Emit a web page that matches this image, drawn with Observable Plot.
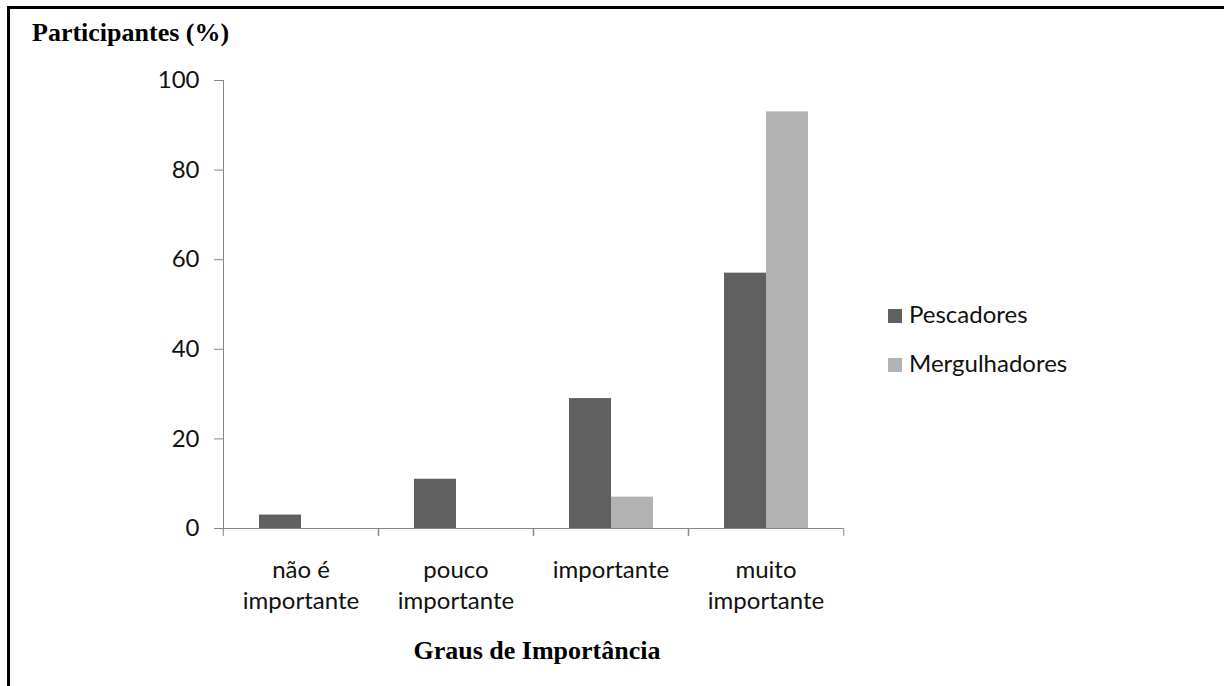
<!DOCTYPE html>
<html><head><meta charset="utf-8">
<script src="https://cdn.jsdelivr.net/npm/d3@7"></script>
<script src="https://cdn.jsdelivr.net/npm/@observablehq/plot@0.6"></script>
<style>
body{margin:0;background:#fff;}
#wrap{position:relative;width:1224px;height:686px;overflow:hidden;background:#fff;}
#border{position:absolute;left:7px;top:6px;width:1400px;height:900px;border-top:3px solid #000;border-left:3px solid #000;box-sizing:border-box;}
.serif{position:absolute;font-family:"Liberation Serif","Times New Roman",serif;font-weight:bold;font-size:26px;line-height:26px;color:#000;white-space:nowrap;}
#chart{position:absolute;left:0;top:0;}
.leg{position:absolute;font-family:Lato,"Open Sans",sans-serif;font-size:24px;line-height:24px;color:#111;white-space:nowrap;}
.leg span.sw{display:inline-block;width:14px;height:14px;margin-right:7px;vertical-align:baseline;}
</style></head>
<body>
<div id="wrap">
  <div id="border"></div>
  <div id="chart"></div>
  <div class="serif" id="ttl" style="left:32px;top:20px;">Participantes (%)</div>
  <div class="serif" id="xlab" style="left:0;width:1074px;text-align:center;top:638px;">Graus de Importância</div>
  <div id="legend"></div>
</div>
<script>
const categories = ["não é importante", "pouco importante", "importante", "muito importante"];
const categoryLabels = ["não é\nimportante", "pouco\nimportante", "importante", "muito\nimportante"];
const series = ["Pescadores", "Mergulhadores"];
const pescadores = [3, 11, 29, 57];
const mergulhadores = [0, 0, 7, 93];
const yTicks = [0, 20, 40, 60, 80, 100];
const seriesColors = ["#606060", "#b2b2b2"];

const data = categories.flatMap((c, i) => [
  {category: c, series: series[0], value: pescadores[i]},
  {category: c, series: series[1], value: mergulhadores[i]}
]);

const W = 1224, H = 686, mL = 222, mR = 380, mT = 80, mB = 158;
const bw = (W - mL - mR) / categories.length;
const AX = "#868686";
const FONT = 'Lato, "Open Sans", sans-serif';

const chart = Plot.plot({
  width: W, height: H,
  marginLeft: mL, marginRight: mR, marginTop: mT, marginBottom: mB,
  style: {fontFamily: FONT, fontSize: "24px", color: "#111", background: "transparent", overflow: "visible"},
  fx: {domain: categories, padding: 0, label: null, axis: null},
  x: {domain: series, paddingInner: 0, paddingOuter: 0.81, axis: null},
  y: {domain: [0, 100], label: null, axis: null},
  color: {domain: series, range: seriesColors},
  marks: [
    Plot.barY(data, {fx: "category", x: "series", y: "value", fill: "series"}),
    Plot.ruleY([0], {stroke: AX}),
    Plot.frame({anchor: "left", stroke: AX, facetAnchor: "left"}),
    Plot.axisY(yTicks, {tickSize: 9, tickPadding: 15, stroke: AX, fill: "#111", label: null, fontSize: 24}),
    Plot.axisFx({anchor: "bottom", tickSize: 0, tickPadding: 27, label: null, fontSize: 24, fill: "#111",
      lineHeight: 1.3, tickFormat: d => categoryLabels[categories.indexOf(d)]}),
    Plot.axisFx({anchor: "bottom", tickSize: 8, stroke: AX, label: null, tickFormat: () => "", dx: -bw / 2}),
    Plot.axisFx([categories[categories.length - 1]], {anchor: "bottom", tickSize: 8, stroke: AX, label: null, tickFormat: () => "", dx: bw / 2})
  ]
});
document.getElementById("chart").appendChild(chart);

const legend = document.getElementById("legend");
const legendTops = [302, 351];
series.forEach((s, i) => {
  const d = document.createElement("div");
  d.className = "leg";
  d.style.left = "888px";
  d.style.top = legendTops[i] + "px";
  const sw = document.createElement("span");
  sw.className = "sw";
  sw.style.background = seriesColors[i];
  d.appendChild(sw);
  d.appendChild(document.createTextNode(s));
  legend.appendChild(d);
});
</script>
</body></html>
